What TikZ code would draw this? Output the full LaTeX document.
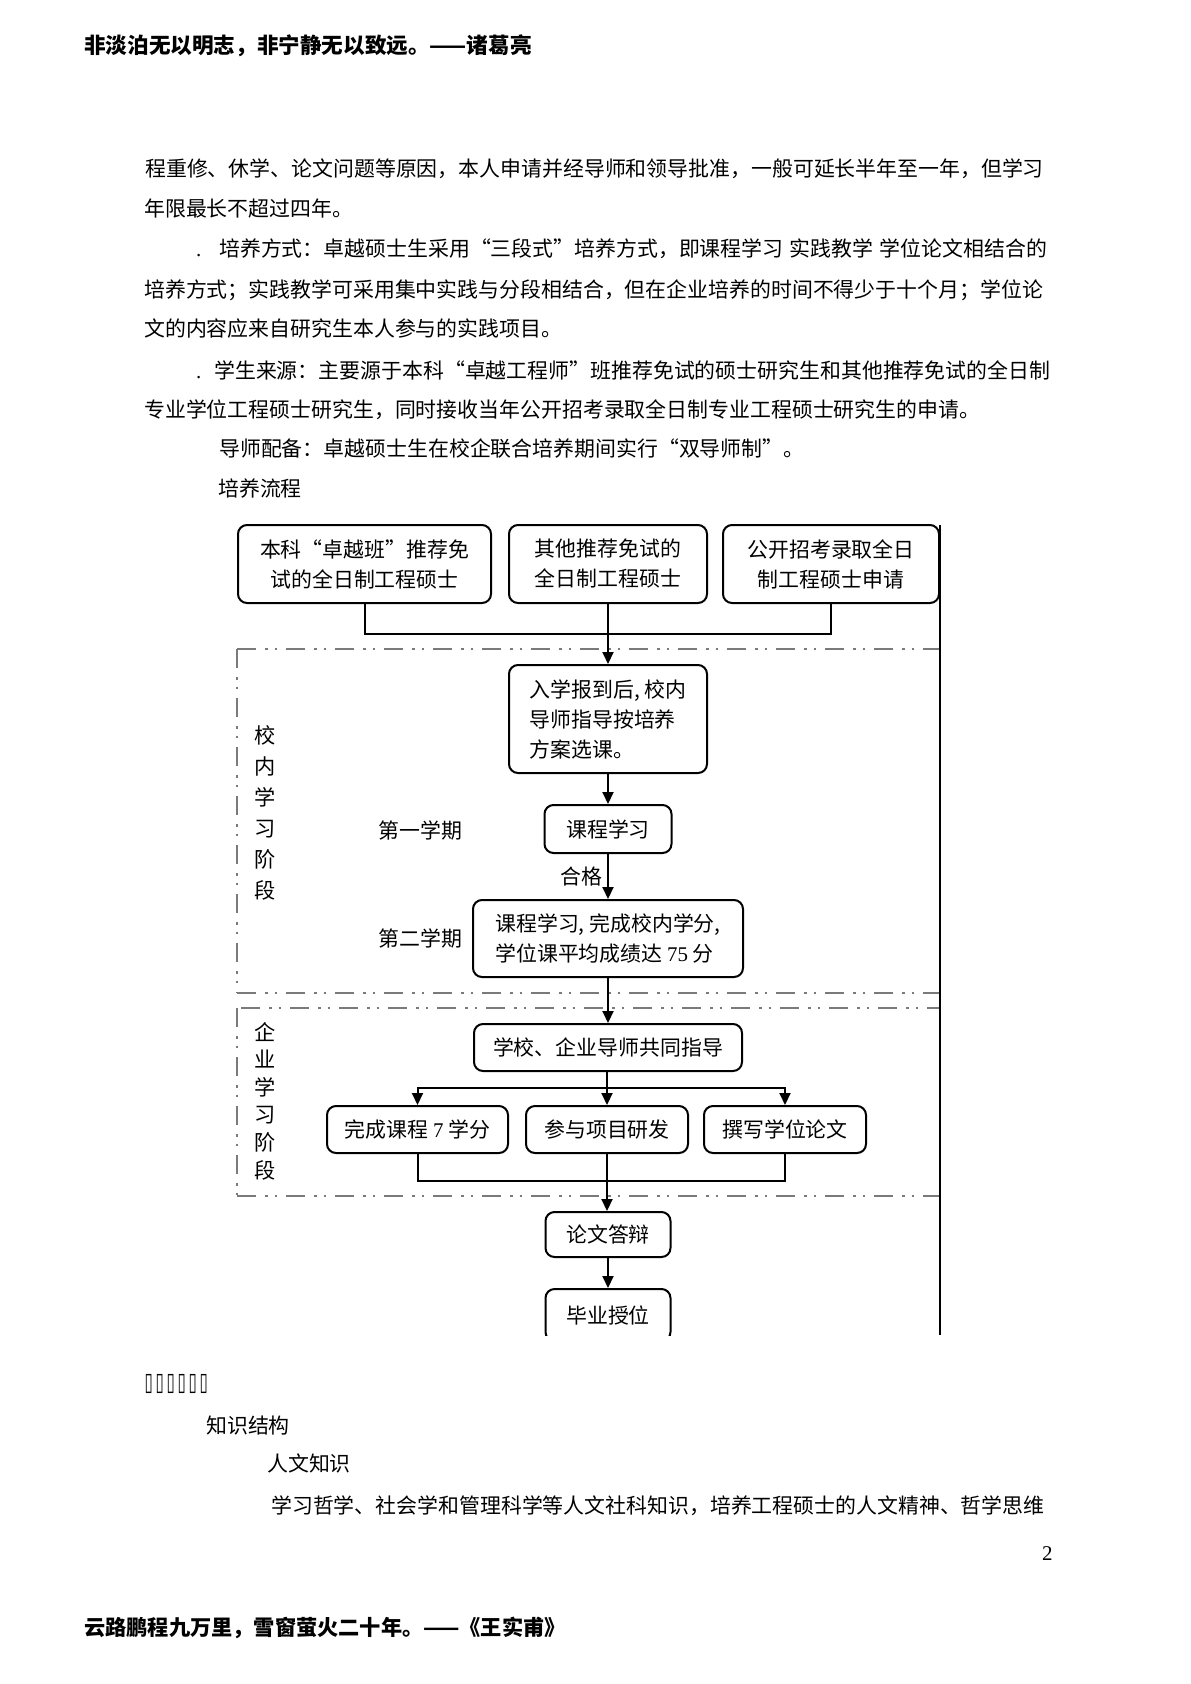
\documentclass[tikz,border=0pt]{standalone}
\usepackage{fontspec}
\usepackage{graphicx}
\setmainfont{Noto Sans CJK SC}
\newfontfamily\latin{Liberation Serif}
\newfontfamily\symfont{DejaVu Sans}
\usetikzlibrary{arrows.meta}
% glue between CJK characters, used only for stretched lines
\newcommand\cjkglue{\hskip 0pt plus 3pt\relax}
\XeTeXinterchartoks 1 1 = {\cjkglue}
\XeTeXinterchartoks 1 2 = {\cjkglue}
\XeTeXinterchartoks 1 3 = {\cjkglue}
\XeTeXinterchartoks 2 1 = {\cjkglue}
\XeTeXinterchartoks 3 1 = {\cjkglue}
\XeTeXinterchartoks 3 2 = {\cjkglue}
\XeTeXinterchartoks 0 1 = {\cjkglue}
\XeTeXinterchartoks 1 0 = {\cjkglue}
\tikzset{
  flowbox/.style={draw, line width=2pt, rounded corners=9pt, inner sep=0pt, align=center},
  link/.style={line width=2pt},
  arr/.style={link, -{Triangle[length=12pt,width=11pt]}},
  zone/.style={draw=black!52, dash pattern=on 19pt off 9pt on 2.5pt off 7pt on 2.5pt off 9pt},
  para/.style={anchor=base west, inner sep=0pt},
}
\newcommand\bodyline[3]{\node[para] at (#1,#2) {#3};}
\newcommand\fullline[4]{\node[para] at (#1,#2) {\XeTeXinterchartokenstate=1 \hbox to #3pt{#4}};}
\newcommand\tofu{\makebox[11pt]{\scalebox{0.6}[1]{\symfont\fontsize{25}{25}\selectfont ▯}}}

\begin{document}
\begin{tikzpicture}[x=1pt,y=-1pt,font=\fontsize{20.9}{30}\selectfont]
\useasboundingbox (0,0) rectangle (1191,1684);
\fill[white] (0,0) rectangle (1191,1684);

% header and footer
\node[para,font=\fontsize{21.6}{26}\selectfont\bfseries] at (84,53) {非淡泊无以明志，非宁静无以致远。——诸葛亮};
\node[para,font=\fontsize{21.2}{26}\selectfont\bfseries] at (84,1635) {云路鹏程九万里，雪窗萤火二十年。——《王实甫》};

% text above the chart
\fullline{145}{176}{905}{程重修、休学、论文问题等原因，本人申请并经导师和领导批准，一般可延长半年至一年，但学习}
\bodyline{144}{216}{年限最长不超过四年。}
\bodyline{196}{256}{\latin .}
\fullline{219}{256}{828}{培养方式：卓越硕士生采用“三段式”培养方式，即课程学习 实践教学 学位论文相结合的}
\fullline{144}{297}{903}{培养方式；实践教学可采用集中实践与分段相结合，但在企业培养的时间不得少于十个月；学位论}
\bodyline{144}{336}{文的内容应来自研究生本人参与的实践项目。}
\bodyline{196}{378}{\latin .}
\fullline{214}{378}{833}{学生来源：主要源于本科“卓越工程师”班推荐免试的硕士研究生和其他推荐免试的全日制}
\bodyline{144}{417}{专业学位工程硕士研究生，同时接收当年公开招考录取全日制专业工程硕士研究生的申请。}
\bodyline{219}{456}{导师配备：卓越硕士生在校企联合培养期间实行“双导师制”。}
\bodyline{218}{496}{培养流程}

% stage zones (dash dot)
\draw[zone, line width=2.4pt] (237,649) -- (940,649);
\draw[zone, line width=2.4pt] (237,993) -- (940,993);
\draw[zone, line width=1.2pt] (237,649) -- (237,993);
\draw[zone, line width=2.4pt] (241,1008) -- (940,1008);
\draw[zone, line width=2.4pt] (237,1196) -- (940,1196);
\draw[zone, line width=1.2pt] (237,1008) -- (237,1196);
\draw[line width=1.2pt] (940,525) -- (940,1335);

\node[align=center, font=\fontsize{21.2}{31}\selectfont] (schoolstage) at (265,812.5) {校\\内\\学\\习\\阶\\段};
\node[align=center, font=\fontsize{21.2}{27.6}\selectfont] (firmstage) at (265,1101) {企\\业\\学\\习\\阶\\段};

% sources
\node[flowbox, minimum width=253pt, minimum height=78pt] (bachelor) at (364.5,564) {本科“卓越班”推荐免\\试的全日制工程硕士};
\node[flowbox, minimum width=198pt, minimum height=78pt] (exempt) at (608,564) {其他推荐免试的\\全日制工程硕士};
\node[flowbox, minimum width=216pt, minimum height=78pt] (exam) at (831,564) {公开招考录取全日\\制工程硕士申请};

% school stage
\node[flowbox, align=left, minimum width=198pt, minimum height=108pt] (enrol) at (608,719)
  {{\XeTeXinterchartokenstate=1 \hbox to 157pt{入学报到后, 校内}}\\
   {\XeTeXinterchartokenstate=1 \hbox to 157pt{导师指导按培养}}\\方案选课。};
\node[flowbox, minimum width=127pt, minimum height=48pt] (termone) at (608,829) {课程学习};
\node[flowbox, align=left, minimum width=270pt, minimum height=77pt] (termtwo) at (608,938.5)
  {课程学习, 完成校内学分,\\学位课平均成绩达 {\latin 75} 分};
\node (termonelbl) at (420.5,830) {第一学期};
\node (termtwolbl) at (420.5,938) {第二学期};
\node (passlbl) at (581,877) {合格};

% firm stage
\node[flowbox, minimum width=268pt, minimum height=47pt] (guide) at (608,1047.5) {学校、企业导师共同指导};
\node[flowbox, minimum width=181pt, minimum height=47pt] (credits) at (417.5,1129.5) {完成课程 {\latin 7} 学分};
\node[flowbox, minimum width=162pt, minimum height=47pt] (project) at (607,1129.5) {参与项目研发};
\node[flowbox, minimum width=162pt, minimum height=47pt] (thesis) at (785,1129.5) {撰写学位论文};

\node[flowbox, minimum width=125pt, minimum height=45pt] (defense) at (608,1234.5) {论文答辩};
\begin{scope} % the page cuts the last box
\clip (0,0) rectangle (1191,1335);
\node[flowbox, minimum width=125pt, minimum height=52pt] (degree) at (608,1315) {毕业授位};
\end{scope}

% connectors
\coordinate (merge) at (608,634);
\draw[link] (bachelor.south) |- (merge) -| (exam.south);
\draw[arr] (exempt.south) -- (enrol.north);
\draw[arr] (enrol.south) -- (termone.north);
\draw[arr] (termone.south) -- (termtwo.north);
\draw[arr] (termtwo.south) -- (guide.north);
\coordinate (split) at (607,1088);
\draw[arr] (guide.south -| project.north) -- (project.north);
\draw[arr] (split) -| (credits.north);
\draw[arr] (split) -| (thesis.north);
\coordinate (join) at (607,1181);
\draw[link] (credits.south) |- (join) -| (thesis.south);
\draw[arr] (project.south) -- (defense.north -| project.south);
\draw[arr] (defense.south) -- (degree.north);

% text below the chart
\node[para] at (143,1390) {\tofu\tofu\tofu\tofu\tofu\tofu};
\bodyline{206}{1433}{知识结构}
\bodyline{267}{1471}{人文知识}
\fullline{271}{1513}{781}{学习哲学、社会学和管理科学等人文社科知识，培养工程硕士的人文精神、哲学思维}
\node[para,font=\fontsize{21}{24}\selectfont\latin] at (1042,1560) {2};
\end{tikzpicture}
\end{document}
